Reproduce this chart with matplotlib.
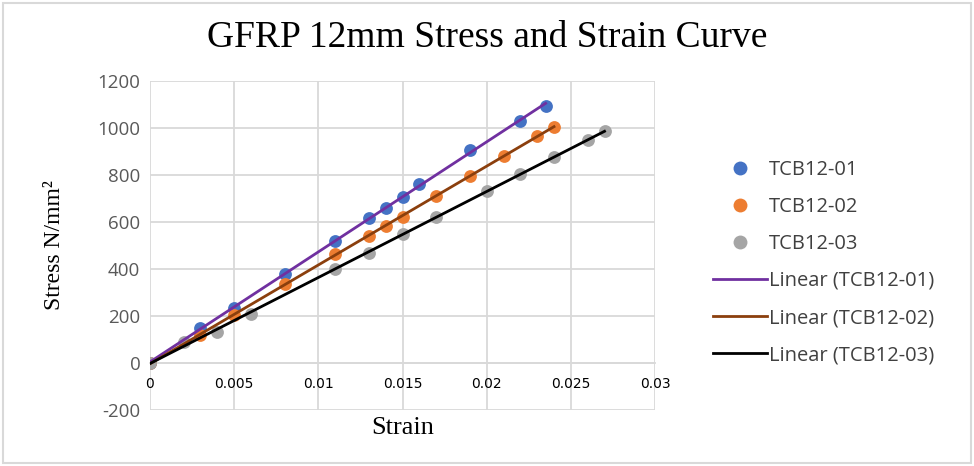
import numpy as np
import matplotlib
matplotlib.use('Agg')
import matplotlib.pyplot as plt
from matplotlib.lines import Line2D
from matplotlib.patches import Rectangle

plt.rcParams['axes.unicode_minus'] = False

# strain / stress readings per specimen
strain_01 = [0, 0.003, 0.005, 0.008, 0.011, 0.013, 0.014, 0.015, 0.016, 0.019, 0.022, 0.0235]
stress_01 = [0, 150, 232, 378, 520, 617, 660, 707, 760, 905, 1030, 1095]

strain_02 = [0, 0.003, 0.005, 0.008, 0.011, 0.013, 0.014, 0.015, 0.017, 0.019, 0.021, 0.023, 0.024]
stress_02 = [0, 120, 205, 335, 465, 540, 582, 622, 712, 797, 882, 965, 1005]

strain_03 = [0, 0.002, 0.004, 0.006, 0.011, 0.013, 0.015, 0.017, 0.020, 0.022, 0.024, 0.026, 0.027]
stress_03 = [0, 88, 130, 210, 400, 470, 550, 620, 730, 805, 875, 950, 987]

names = ['TCB12-01', 'TCB12-02', 'TCB12-03']
dot_colors = ['#4472C4', '#ED7D31', '#A5A5A5']
line_colors = ['#7030A0', '#8B3F0D', '#000000']

fig = plt.figure(figsize=(9.74, 4.66), dpi=100)
ax = fig.add_axes([0.154, 0.1202, 0.5185, 0.706])

series = [(strain_01, stress_01), (strain_02, stress_02), (strain_03, stress_03)]
for (x, y), dc in zip(series, dot_colors):
    ax.scatter(x, y, s=85, color=dc, zorder=3, linewidths=0)
for (x, y), lc in zip(series, line_colors):
    k, b = np.polyfit(x, y, 1)
    xs = np.array([0, max(x)])
    ax.plot(xs, k * xs + b, color=lc, lw=2, zorder=4)

ax.set_xlim(0, 0.03)
ax.set_ylim(-200, 1200)
ax.set_xticks(np.arange(0, 0.0301, 0.005))
ax.set_xticklabels(['0', '0.005', '0.01', '0.015', '0.02', '0.025', '0.03'])
ax.set_yticks(range(-200, 1201, 200))

for lab in ax.get_xticklabels() + ax.get_yticklabels():
    lab.set_fontfamily('Open Sans')
    lab.set_fontsize(13.5)
    lab.set_color('#595959')

ax.grid(True, color='#D9D9D9', lw=1.3)
ax.set_axisbelow(True)
for s in ['top', 'right', 'left']:
    ax.spines[s].set_visible(False)
ax.spines['bottom'].set_position(('data', 0))
ax.spines['bottom'].set_color('#D9D9D9')
ax.spines['bottom'].set_linewidth(1.3)
ax.tick_params(axis='y', length=0, pad=7)
ax.tick_params(axis='x', length=0, pad=10)

ax.set_xlabel('Strain', family='Liberation Serif', size=19)
ax.set_ylabel('Stress N/mm²', family='Liberation Serif', size=17)
ax.xaxis.set_label_coords(0.5, -0.02)
ax.yaxis.set_label_coords(-0.168, 0.5)

fig.suptitle('GFRP 12mm Stress and Strain Curve', family='Liberation Serif',
             size=27, x=0.5, y=0.955)

handles = [Line2D([], [], ls='none', marker='o', ms=10, color=c, markeredgewidth=0)
           for c in dot_colors]
handles += [Line2D([], [], color=c, lw=2) for c in line_colors]
labels = names + ['Linear (%s)' % n for n in names]
fig.legend(handles, labels, loc='center left', bbox_to_anchor=(0.732, 0.437),
           frameon=False, prop=dict(family='Open Sans', size=14.5),
           handlelength=2.7, handletextpad=0.1, labelspacing=0.85,
           labelcolor='#404040', borderaxespad=0, borderpad=0)

fig.patches.append(Rectangle((0.003, 0.006), 0.994, 0.988, transform=fig.transFigure,
                             fill=False, edgecolor='#D9D9D9', lw=1.5))

fig.savefig('out.png', dpi=100)
